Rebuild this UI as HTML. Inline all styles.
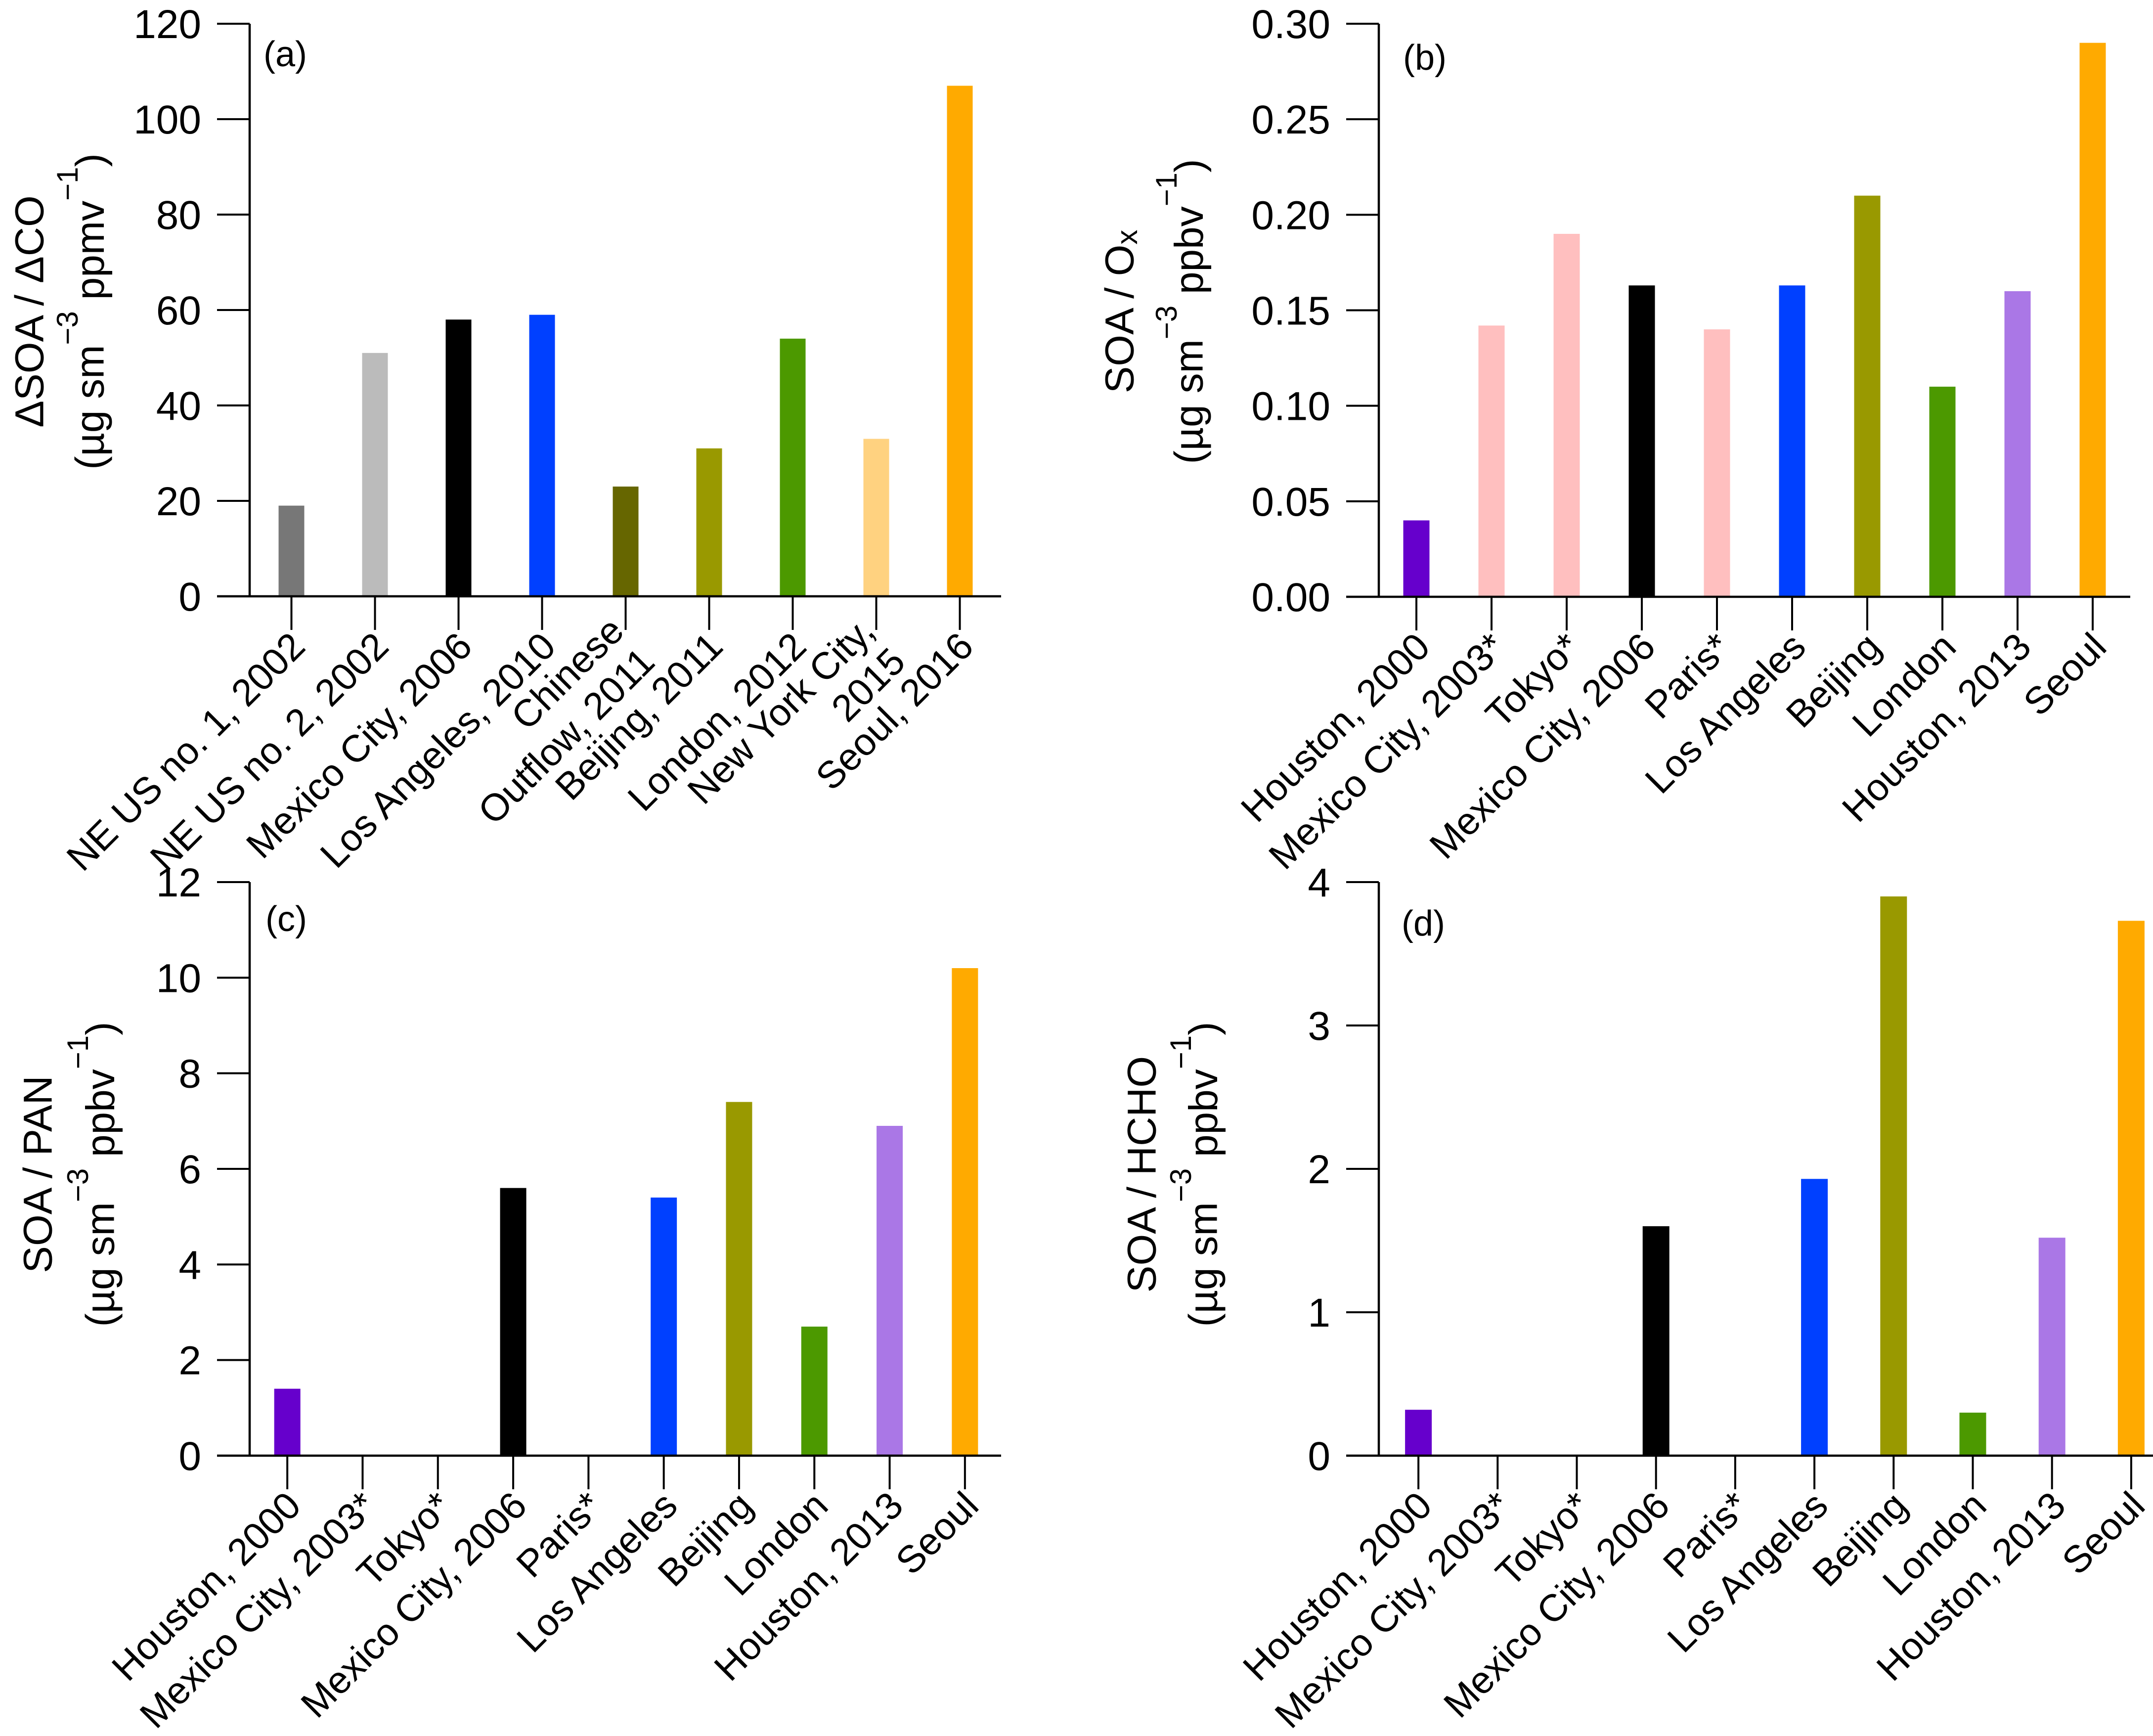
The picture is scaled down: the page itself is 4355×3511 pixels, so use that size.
<!DOCTYPE html>
<html><head><meta charset="utf-8"><style>
html,body{margin:0;padding:0;background:#fff;}
svg{display:block;font-family:"Liberation Sans",Arial,sans-serif;}
</style></head><body>
<svg id="fig" width="4355" height="3511" viewBox="0 0 4355 3511" xmlns="http://www.w3.org/2000/svg"></svg>
<script>
// Panel (a)
const catsA = ["NE US no. 1, 2002","NE US no. 2, 2002","Mexico City, 2006","Los Angeles, 2010","Chinese|Outflow, 2011","Beijing, 2011","London, 2012","New York City,|2015","Seoul, 2016"];
const valsA = [19,51,58,59,23,31,54,33,107];
const colsA = ["#777777","#bbbbbb","#000000","#0040ff","#666600","#999900","#4c9900","#ffd280","#ffaa00"];
const ticksA = [0,20,40,60,80,100,120];
const tickLabA = ["0","20","40","60","80","100","120"];
// Panels (b),(c),(d)
const catsB = ["Houston, 2000","Mexico City, 2003*","Tokyo*","Mexico City, 2006","Paris*","Los Angeles","Beijing","London","Houston, 2013","Seoul"];
const colsB = ["#6600cc","#ffbfbf","#ffbfbf","#000000","#ffbfbf","#0040ff","#999900","#4c9900","#aa77e6","#ffaa00"];
const valsB = [0.04,0.142,0.19,0.163,0.14,0.163,0.21,0.11,0.16,0.29];
const ticksB = [0,0.05,0.10,0.15,0.20,0.25,0.30];
const tickLabB = ["0.00","0.05","0.10","0.15","0.20","0.25","0.30"];
const valsC = [1.4,0,0,5.6,0,5.4,7.4,2.7,6.9,10.2];
const ticksC = [0,2,4,6,8,10,12];
const tickLabC = ["0","2","4","6","8","10","12"];
const valsD = [0.32,0,0,1.6,0,1.93,3.9,0.3,1.52,3.73];
const ticksD = [0,1,2,3,4];
const tickLabD = ["0","1","2","3","4"];

const NS="http://www.w3.org/2000/svg";
const svg=document.getElementById('fig');
function mk(tag,attrs,parent){const e=document.createElementNS(NS,tag);for(const k in attrs)e.setAttribute(k,attrs[k]);(parent||svg).appendChild(e);return e;}

function panel(o){
  const g=mk('g',{});
  
  
  const band=o.band;
  const xc=i=>o.x0+band*(i+0.5);
  const y=v=>o.yb-(v-o.ymin)/(o.ymax-o.ymin)*(o.yb-o.yt);
  o.vals.forEach((v,i)=>{
    if(v<=0) return;
    const r=mk('rect',{x:xc(i)-o.bw/2,y:y(v),width:o.bw,height:y(0)-y(v),fill:o.cols[i]},g);
    
    
  });
  const ya=mk('line',{x1:o.x0,y1:o.yt,x2:o.x0,y2:o.yb+2,stroke:'#000','stroke-width':4.5},g);
  
  
  const xa=mk('line',{x1:o.x0-66,y1:o.yb,x2:o.x1,y2:o.yb,stroke:'#000','stroke-width':4.5},g);
  
  
  o.ticks.forEach((t,i)=>{
    mk('line',{x1:o.x0-66,y1:y(t),x2:o.x0,y2:y(t),stroke:'#000','stroke-width':4},g);
    const tl=mk('text',{x:o.x0-98,y:y(t)+29,'text-anchor':'end','font-size':82,fill:'#000'},g);
    tl.textContent=o.tickLab[i];
    
    
  });
  o.cats.forEach((c,i)=>{
    mk('line',{x1:xc(i),y1:o.yb,x2:xc(i),y2:o.yb+68,stroke:'#000','stroke-width':4},g);
    const lines=c.split('|');
    const tx=xc(i)+12, ty=o.yb+86;
    const t=mk('text',{transform:`translate(${tx},${ty}) rotate(-45)`,'text-anchor':'end','font-size':77,fill:'#000'},g);
    
    
    lines.forEach((ln,k)=>{
      const ts=mk('tspan',{x:0,y:(k-(lines.length-1)/2)*88+28},t);
      ts.textContent=ln;
    });
  });
  const pl=mk('text',{x:o.lx,y:o.ly+25,'font-size':72,fill:'#000'},g);
  pl.textContent='('+o.id+')';
  
  
  const cy=o.tcy;
  const t1=mk('text',{transform:`translate(${o.t1x},${cy}) rotate(-90)`,'text-anchor':'middle','font-size':82,fill:'#000','dominant-baseline':'central'},g);
  
  
  t1.innerHTML=o.title1;
  const t2=mk('text',{transform:`translate(${o.t2x},${cy}) rotate(-90)`,'text-anchor':'middle','font-size':82,fill:'#000','dominant-baseline':'central'},g);
  
  
  t2.innerHTML='(µg sm<tspan dy="-46" font-size="60">−3</tspan><tspan dy="46"> '+o.unit+'</tspan><tspan dy="-46" font-size="60">−1</tspan><tspan dy="46">)</tspan>';
}

panel({id:'a',cats:catsA,vals:valsA,cols:colsA,ticks:ticksA,tickLab:tickLabA,ymin:0,ymax:120,
  x0:505,x1:2025,band:169,bw:52,yt:48,yb:1206,lx:533,ly:109,t1x:60,t2x:182,tcy:630,
  title1:'ΔSOA / ΔCO',unit:'ppmv'});
panel({id:'b',cats:catsB,vals:valsB,cols:colsB,ticks:ticksB,tickLab:tickLabB,ymin:0,ymax:0.30,
  x0:2789,x1:4309,band:152,bw:53,yt:48,yb:1207,lx:2838,ly:116,t1x:2265,t2x:2405,tcy:630,
  title1:'SOA / O<tspan font-size="60" dy="14">x</tspan>',unit:'ppbv'});
panel({id:'c',cats:catsB,vals:valsC,cols:colsB,ticks:ticksC,tickLab:tickLabC,ymin:0,ymax:12,
  x0:505,x1:2025,band:152.3,bw:53,yt:1784,yb:2944,lx:537,ly:1858,t1x:77,t2x:203,tcy:2375,
  title1:'SOA / PAN',unit:'ppbv'});
panel({id:'d',cats:catsB,vals:valsD,cols:colsB,ticks:ticksD,tickLab:tickLabD,ymin:0,ymax:4,
  x0:2789,x1:4355,band:160.2,bw:54,yt:1784,yb:2944,lx:2835,ly:1867,t1x:2310,t2x:2434,tcy:2375,
  title1:'SOA / HCHO',unit:'ppbv'});
</script>
</body></html>
